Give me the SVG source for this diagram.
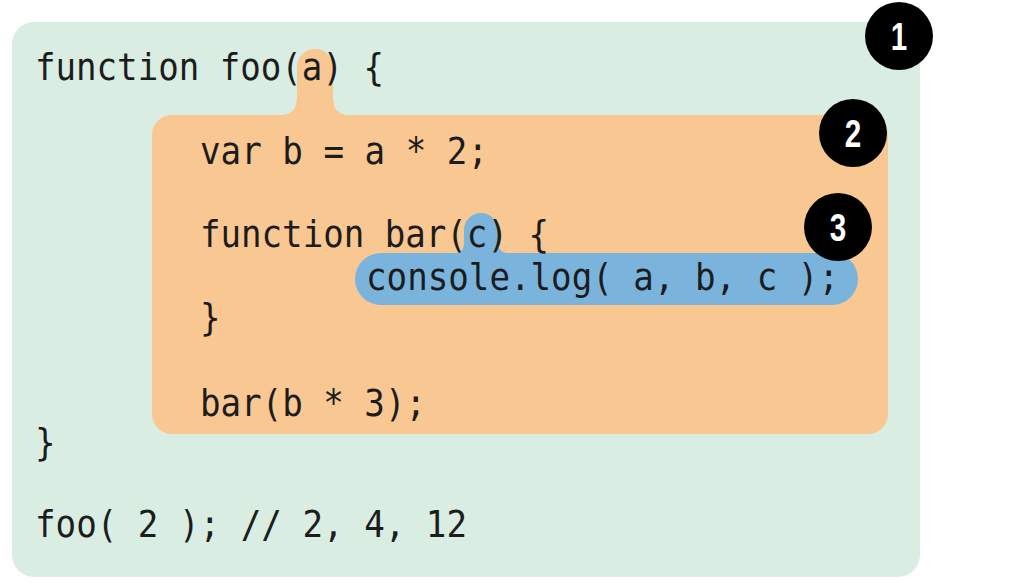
<svg xmlns="http://www.w3.org/2000/svg" width="1026" height="588" viewBox="0 0 1026 588">
<style>
.code{font-family:"DejaVu Sans Mono","Liberation Mono",monospace;font-size:38px;fill:#1c1c1c}
.num{font-family:"Liberation Sans",Arial,sans-serif;font-weight:bold;font-size:38px;fill:#fff;text-anchor:middle}
</style>
<rect width="1026" height="588" fill="#fff"/>
<g id="scope1">
<rect x="12" y="22" width="908" height="555" rx="22" fill="#d9ede2"/>
</g>
<g id="scope2">
<path d="M172,115 H280 C293,115 297,108 297,95 V67 A18,18 0 0 1 333,67 V95 C333,108 337,115 350,115 H868 A20,20 0 0 1 888,135 V414 A20,20 0 0 1 868,434 H172 A20,20 0 0 1 152,414 V135 A20,20 0 0 1 172,115 Z" fill="#f8c792"/>
</g>
<g id="scope3">
<path d="M381,253 H455 C463,253 464,248 464,240 V230 A17,17 0 0 1 498,230 V240 C498,248 500,253 508,253 H832 A26,26 0 0 1 832,305 H381 A26,26 0 0 1 381,253 Z" fill="#7ab4dc"/>
</g>
<g id="code" class="code">
<text x="35" y="80" textLength="349" lengthAdjust="spacingAndGlyphs">function foo(a) {</text>
<text x="200" y="164" textLength="288" lengthAdjust="spacingAndGlyphs">var b = a * 2;</text>
<text x="200" y="247" textLength="349" lengthAdjust="spacingAndGlyphs">function bar(c) {</text>
<text x="366" y="290" textLength="473" lengthAdjust="spacingAndGlyphs">console.log( a, b, c );</text>
<text x="200" y="330" textLength="20.5" lengthAdjust="spacingAndGlyphs">}</text>
<text x="200" y="416" textLength="226" lengthAdjust="spacingAndGlyphs">bar(b * 3);</text>
<text x="35" y="455" textLength="20.5" lengthAdjust="spacingAndGlyphs">}</text>
<text x="35" y="537" textLength="432" lengthAdjust="spacingAndGlyphs">foo( 2 ); // 2, 4, 12</text>
</g>
<g id="badge1"><circle cx="899" cy="36" r="34" fill="#000"/><text class="num" x="899" y="50" transform="translate(899 0) scale(0.78 1) translate(-899 0)">1</text></g>
<g id="badge2"><circle cx="853" cy="133" r="34" fill="#000"/><text class="num" x="853" y="147" transform="translate(853 0) scale(0.78 1) translate(-853 0)">2</text></g>
<g id="badge3"><circle cx="838" cy="227" r="34" fill="#000"/><text class="num" x="838" y="241" transform="translate(838 0) scale(0.78 1) translate(-838 0)">3</text></g>
<g id="connectors"></g>
</svg>
